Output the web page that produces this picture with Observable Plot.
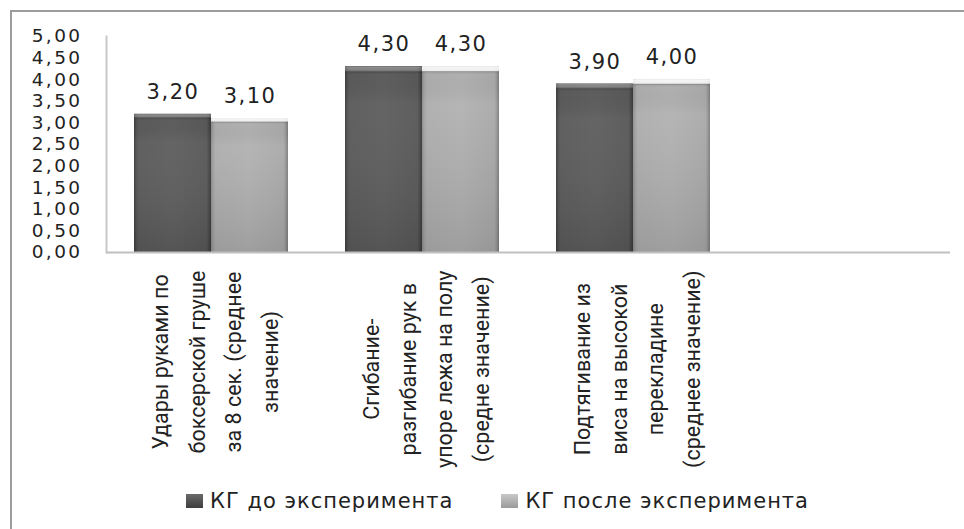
<!DOCTYPE html>
<html>
<head>
<meta charset="utf-8">
<script src="https://cdn.jsdelivr.net/npm/d3@7"></script>
<script src="https://cdn.jsdelivr.net/npm/@observablehq/plot@0.6"></script>
<style>
  html, body { margin: 0; padding: 0; background: #fff; }
  body { width: 964px; height: 529px; position: relative; overflow: hidden; }
  #frame {
    position: absolute; left: 10px; top: 10px; width: 990px; height: 560px;
    border: 2px solid #9c9c9c; box-sizing: border-box;
  }
  #chart { position: absolute; left: 0; top: 0; }
  #legend {
    position: absolute; left: 10px; top: 489px; width: 975px;
    text-align: center; font-family: "DejaVu Sans", sans-serif; font-size: 21px;
    letter-spacing: 1px; color: #222; white-space: nowrap;
  }
  #legend .item { display: inline-flex; align-items: center; margin: 0 24px; }
  #legend .sw { width: 17px; height: 14px; margin-right: 7px; display: inline-block; }
</style>
</head>
<body>
<div id="frame"></div>
<div id="chart"></div>
<div id="legend"></div>
<script>
// Test categories (the fourth slot of the axis is left empty)
const categories = [
  "Удары руками по\nбоксерской груше\nза 8 сек. (среднее\nзначение)",
  "Сгибание-\nразгибание рук в\nупоре лежа на полу\n(средне значение)",
  "Подтягивание из\nвиса на высокой\nперекладине\n(среднее значение)",
  ""
];
const seriesNames = ["КГ до эксперимента", "КГ после эксперимента"];
const before = [3.2, 4.3, 3.9, null];
const after = [3.1, 4.3, 4.0, null];
const yTicks = [0, 0.5, 1, 1.5, 2, 2.5, 3, 3.5, 4, 4.5, 5];

const rows = categories.map((c, i) => ({category: c, before: before[i], after: after[i]}));
const filled = rows.filter(d => d.before != null);

const fmt = v => v.toFixed(2).replace(".", ",");

// Layout of the band scale: bars of one group sit side by side
const W = 964, H = 480;
const mL = 106, mR = 14, mT = 36, mB = 228;
const padIn = 0.27, padOut = 0.135;
const step = (W - mL - mR) / (categories.length - padIn + 2 * padOut);
const half = step * (1 - padIn) / 2;

// Category labels: rotated, each line centred inside its block
const labelFont = "Roboto";
const labelSize = 21.5;
const ctx = document.createElement("canvas").getContext("2d");
ctx.font = `${labelSize}px ${labelFont}`;
const blockLen = c => Math.max(0, ...c.split("\n").map(s => ctx.measureText(s).width));

const labelMarks = categories.filter(c => c).map(c =>
  Plot.text([c], {
    x: d => d,
    text: d => d,
    frameAnchor: "bottom",
    rotate: -90,
    textAnchor: "middle",
    lineAnchor: "middle",
    lineHeight: 1.7,
    dy: 18 + blockLen(c) / 2,
    fontFamily: labelFont,
    fontSize: labelSize,
    fill: "#222"
  })
);

const chart = Plot.plot({
  width: W,
  height: H,
  marginLeft: mL,
  marginRight: mR,
  marginTop: mT,
  marginBottom: mB,
  style: {fontFamily: "DejaVu Sans, sans-serif", fontSize: "21px", color: "#222", overflow: "visible", background: "transparent"},
  x: {domain: categories, paddingInner: padIn, paddingOuter: padOut, axis: null},
  y: {domain: [0, 5], axis: null},
  marks: [
    Plot.frame({anchor: "left", stroke: "#c8c8c8", strokeWidth: 2}),
    Plot.barY(filled, {x: "category", y: "before", insetRight: half, fill: "url(#darkH)"}),
    Plot.barY(filled, {x: "category", y: "before", insetRight: half, fill: "url(#shadeDark)"}),
    Plot.barY(filled, {x: "category", y: "after", insetLeft: half, fill: "url(#lightH)"}),
    Plot.barY(filled, {x: "category", y: "after", insetLeft: half, fill: "url(#shadeLight)"}),
    Plot.ruleY([0], {stroke: "#c0c0c0", strokeWidth: 2}),
    Plot.axisY(yTicks, {
      tickSize: 0, tickPadding: 24, tickFormat: fmt, fontSize: 18.5, label: null, fill: "#222"
    }),
    Plot.text(filled, {x: "category", y: "before", text: d => fmt(d.before), dx: -half / 2, dy: -22, fontSize: 21, fill: "#222"}),
    Plot.text(filled, {x: "category", y: "after", text: d => fmt(d.after), dx: half / 2, dy: -22, fontSize: 21, fill: "#222"}),
    ...labelMarks
  ]
});

// Letter spacing widens the numeric labels a little
d3.select(chart).selectAll("[aria-label='y-axis tick label'] text").style("letter-spacing", "2.4px");
d3.select(chart).selectAll("[aria-label='text'] text")
  .filter(function () { return /^[0-9,]+$/.test(this.textContent); })
  .style("letter-spacing", "1.5px");

// Bevelled look of the bars
const defs = d3.select(chart).insert("defs", ":first-child");
function hGrad(id, stops) {
  const g = defs.append("linearGradient").attr("id", id).attr("x1", 0).attr("x2", 1).attr("y1", 0).attr("y2", 0);
  stops.forEach(([o, c]) => g.append("stop").attr("offset", o).attr("stop-color", c));
}
function vGrad(id, stops) {
  const g = defs.append("linearGradient").attr("id", id).attr("x1", 0).attr("x2", 0).attr("y1", 0).attr("y2", 1);
  stops.forEach(([o, c, a]) => g.append("stop").attr("offset", o).attr("stop-color", c).attr("stop-opacity", a));
}
hGrad("darkH", [[0, "#3c3c3c"], [0.03, "#505050"], [0.06, "#5a5a5a"], [0.5, "#5e5e5e"], [0.94, "#585858"], [0.97, "#4a4a4a"], [1, "#363636"]]);
hGrad("lightH", [[0, "#8a8a8a"], [0.03, "#a0a0a0"], [0.06, "#acacac"], [0.5, "#b0b0b0"], [0.94, "#a8a8a8"], [0.97, "#969696"], [1, "#7a7a7a"]]);
vGrad("shadeDark", [[0, "#000000", 0.15], [0.006, "#ffffff", 0.3], [0.022, "#ffffff", 0.22], [0.032, "#000000", 0.12], [0.045, "#000000", 0], [0.2, "#ffffff", 0.04], [1, "#000000", 0.1]]);
vGrad("shadeLight", [[0, "#ffffff", 0.9], [0.024, "#ffffff", 0.8], [0.034, "#000000", 0.06], [0.045, "#000000", 0], [0.2, "#ffffff", 0.06], [1, "#000000", 0.1]]);

document.getElementById("chart").appendChild(chart);

// Legend below the plot
const swatches = [
  "linear-gradient(#6a6a6a, #3e3e3e)",
  "linear-gradient(#c8c8c8, #9a9a9a)"
];
const legend = document.getElementById("legend");
seriesNames.forEach((name, i) => {
  const item = document.createElement("span");
  item.className = "item";
  const sw = document.createElement("span");
  sw.className = "sw";
  sw.style.background = swatches[i];
  item.appendChild(sw);
  item.appendChild(document.createTextNode(name));
  legend.appendChild(item);
});
</script>
</body>
</html>
